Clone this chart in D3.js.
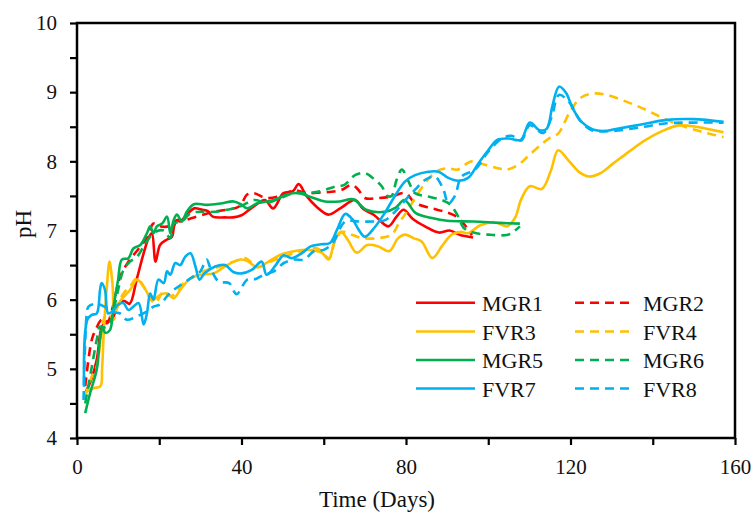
<!DOCTYPE html>
<html>
<head>
<meta charset="utf-8">
<script src="https://cdn.jsdelivr.net/npm/d3@7"></script>
<style>
  html, body { margin: 0; padding: 0; background: #fff; }
  svg { display: block; }
  text { font-family: "Liberation Serif", "Times New Roman", serif; fill: #111; }
</style>
</head>
<body>
<svg id="chart" width="755" height="512"></svg>
<script>
// ---------- data: [day, pH] ----------
const seriesNames = ["MGR1", "MGR2", "FVR3", "FVR4", "MGR5", "MGR6", "FVR7", "FVR8"];
const xTickValues = [0, 40, 80, 120, 160];
const yTickValues = [4, 5, 6, 7, 8, 9, 10];

const mgr1 = [[2,4.65],[3.5,4.85],[4.8,5.13],[6,5.6],[7,5.68],[8.5,5.72],[10,5.92],[11.5,5.98],[12.8,5.94],[14.5,6.29],[16.2,6.67],[17.4,6.89],[18.2,6.96],[19.1,6.55],[20.2,6.79],[21.9,6.87],[23.1,6.91],[23.6,7.06],[24.3,7.15],[25.1,7.13],[27,7.25],[28.5,7.32],[30.5,7.3],[31.8,7.28],[33,7.2],[36,7.19],[38,7.19],[40,7.22],[43,7.35],[45.7,7.44],[47.7,7.32],[50.2,7.54],[52.5,7.57],[53.9,7.67],[55.8,7.5],[58.3,7.34],[61.1,7.23],[64,7.32],[67.6,7.44],[69.6,7.31],[72.3,7.22],[75.7,7.06],[77.7,7.2],[79.4,7.3],[81.6,7.17],[84.6,7.06],[88,6.97],[90.6,7.0],[93,6.94],[96.3,6.9]];
const mgr2 = [[2,4.75],[3.6,5.42],[4.8,5.6],[6,5.71],[7.3,5.66],[8.5,5.85],[10.5,6.33],[12.5,6.55],[14.5,6.7],[17,6.89],[18.6,7.1],[20.2,7.06],[22.3,7.06],[24.3,7.15],[26,7.15],[28,7.18],[30.8,7.23],[33.2,7.27],[36.5,7.3],[39.5,7.35],[41.4,7.52],[43,7.54],[46,7.47],[49.5,7.5],[52.8,7.58],[56,7.54],[59.4,7.55],[61.9,7.56],[64.4,7.59],[66.8,7.66],[68.4,7.59],[70,7.47],[73.2,7.47],[76.5,7.49],[79.8,7.54],[82.2,7.4],[86.3,7.32],[89.5,7.27],[92.3,7.2],[94.3,7.08],[96,6.93]];
const fvr3 = [[2,4.66],[4,4.72],[5.7,4.75],[6.1,5.0],[6.5,5.52],[7.3,6.22],[7.9,6.55],[8.6,6.25],[9.2,5.82],[10.5,5.98],[12.9,6.14],[14.6,6.29],[16.2,6.19],[17.4,6.07],[18.6,6.0],[20.2,6.07],[21.9,6.09],[23.5,6.02],[25.1,6.14],[27.6,6.31],[30,6.36],[33.3,6.38],[36.5,6.5],[39.8,6.58],[41.4,6.56],[43.8,6.47],[46.3,6.54],[49.5,6.65],[52.8,6.7],[56.5,6.72],[59.5,6.68],[61.2,6.58],[62.7,6.86],[64.2,6.98],[65.9,6.86],[68,6.68],[70.6,6.79],[73.3,6.77],[75.9,6.7],[78.1,6.89],[79.8,6.94],[81.8,6.89],[83.8,6.84],[86.4,6.6],[88.7,6.77],[91.1,6.94],[93.5,6.98],[95,6.96],[98.2,7.08],[101.6,7.12],[104.5,7.06],[106.5,7.18],[108,7.45],[110.1,7.64],[113,7.6],[115.2,7.86],[117,8.16],[119.7,8.0],[122.2,7.84],[124.5,7.78],[127,7.82],[130.4,7.97],[134,8.13],[138,8.3],[142.4,8.44],[146.4,8.52],[150.5,8.5],[154,8.46],[157.2,8.42]];
const fvr4 = [[2,4.6],[3.6,4.89],[4.8,5.03],[6,5.56],[6.8,5.76],[7.6,5.8],[8.9,5.71],[9.7,5.9],[11.3,6.09],[12.9,6.19],[14.6,6.31],[16.2,6.19],[17.4,6.05],[19,5.95],[21.1,6.12],[22.7,6.05],[24,6.09],[25.9,6.24],[28.4,6.33],[31.6,6.43],[34.9,6.48],[38.1,6.55],[41,6.6],[43.8,6.47],[47.1,6.55],[50.3,6.62],[54.4,6.7],[58.5,6.74],[61.3,6.6],[62.7,6.84],[64.4,6.98],[66.8,6.94],[69.2,6.89],[73.3,6.89],[76.5,6.94],[78.5,7.13],[80.2,7.27],[82.2,7.47],[84.6,7.68],[86.3,7.8],[88.3,7.88],[90.3,7.9],[92.5,7.88],[94.3,7.95],[96,8.0],[99.2,7.95],[102.4,7.9],[104.5,7.88],[107.3,7.95],[109.6,8.07],[113.2,8.26],[115.5,8.36],[117,8.4],[119.9,8.72],[122.5,8.92],[125.5,8.98],[128.8,8.96],[133.7,8.86],[138.5,8.74],[143.4,8.6],[148.3,8.49],[153.1,8.41],[157.2,8.35]];
const mgr5 = [[2,4.36],[3.2,4.65],[4.8,4.99],[5.6,5.42],[6.2,5.6],[6.9,5.52],[8,5.56],[8.9,5.9],[10,6.29],[10.9,6.58],[12.5,6.6],[13.7,6.74],[15.4,6.79],[17,6.96],[17.8,7.06],[18.6,6.96],[19.4,7.06],[20.7,7.1],[21.9,7.2],[22.7,6.96],[23.5,7.15],[24.3,7.23],[25.5,7.13],[26.7,7.27],[28.4,7.38],[31.6,7.37],[34.9,7.39],[38.1,7.42],[39.8,7.38],[41.4,7.32],[43.7,7.39],[47.9,7.44],[51.1,7.52],[53.8,7.54],[57.5,7.47],[60.3,7.42],[63.9,7.42],[67.2,7.45],[70.3,7.3],[74.9,7.27],[77.5,7.33],[79.6,7.44],[82.4,7.25],[86.3,7.18],[90,7.14],[96.4,7.13],[102.9,7.11],[107.7,7.1]];
const mgr6 = [[2,4.5],[3.6,5.03],[4.8,5.42],[5.6,5.61],[6.8,5.6],[8,5.66],[8.9,5.85],[10,6.14],[11.3,6.43],[12.9,6.55],[14.6,6.62],[16.2,6.77],[17.8,6.91],[19.4,6.99],[21.1,7.0],[22.7,6.89],[23.5,7.1],[25.5,7.13],[27.6,7.25],[30,7.27],[33.3,7.27],[36.5,7.3],[39.8,7.35],[43,7.44],[46.3,7.4],[49.5,7.47],[52.8,7.54],[56,7.54],[59.3,7.57],[62.5,7.63],[65,7.66],[67.6,7.8],[70,7.83],[72.5,7.73],[74.1,7.64],[75.5,7.5],[76.5,7.5],[77.7,7.73],[79,7.88],[80.6,7.71],[82.2,7.54],[85.4,7.49],[88.7,7.44],[90.7,7.38],[92.7,7.2],[94,7.04],[96.4,6.97],[100,6.94],[104.8,6.94],[106.5,7.0],[107.7,7.06]];
const fvr7 = [[1.7,4.74],[2.5,5.71],[3.6,5.78],[4.8,5.8],[5.6,6.14],[6,6.24],[6.8,6.14],[7.6,5.8],[8.9,5.85],[10,5.93],[11.3,5.95],[12.5,5.85],[13.7,5.9],[15,5.95],[16.2,5.64],[17,5.8],[17.8,6.09],[18.6,6.0],[19.8,6.29],[21.1,6.24],[21.9,6.41],[22.7,6.36],[23.9,6.53],[25.1,6.5],[26.3,6.62],[27.6,6.67],[28.8,6.48],[29.8,6.29],[31,6.38],[33.6,6.48],[36,6.5],[38,6.4],[40,6.38],[42.5,6.43],[44.9,6.55],[46.1,6.36],[48.1,6.48],[50.2,6.64],[52.2,6.6],[54.6,6.67],[56.8,6.77],[59.3,6.8],[61.5,6.82],[63.3,7.02],[65.2,7.24],[67,7.16],[68.4,7.02],[70,6.91],[72.3,7.04],[74.9,7.26],[77.3,7.5],[79.8,7.71],[82.2,7.8],[85.4,7.85],[87.9,7.85],[90.3,7.76],[92.7,7.72],[95.1,7.76],[97.6,7.97],[100,8.16],[102.2,8.31],[105,8.33],[107.9,8.31],[110.1,8.56],[112.5,8.45],[114.2,8.47],[115.6,8.8],[117.2,9.08],[118.9,8.99],[120.5,8.77],[122.7,8.57],[125.4,8.46],[128.4,8.44],[130.4,8.46],[136.9,8.53],[143.4,8.6],[149.9,8.61],[157.2,8.57]];
const fvr8 = [[1.6,4.55],[2.4,5.81],[2.8,5.9],[4.9,5.94],[7.3,5.88],[9,5.82],[10.5,5.8],[12.1,5.71],[14.6,5.76],[17,5.83],[18.6,5.9],[20.2,5.93],[21.9,6.05],[23.5,6.14],[25.9,6.24],[28.4,6.34],[30,6.41],[31.5,6.58],[32.5,6.45],[34.5,6.26],[37,6.24],[38.8,6.08],[41.4,6.29],[43.5,6.3],[45.4,6.36],[47.9,6.41],[50.3,6.53],[52.8,6.58],[55.2,6.58],[57.6,6.7],[60,6.72],[62.2,6.82],[65.2,7.13],[68.4,7.13],[71.7,7.13],[74.9,7.15],[78.1,7.32],[80.6,7.49],[82.2,7.59],[84.6,7.73],[87,7.78],[89.1,7.59],[90.3,7.39],[91.9,7.5],[93.5,7.78],[96.8,7.88],[100,8.14],[103.3,8.33],[105.7,8.37],[108,8.3],[110.1,8.52],[113.4,8.41],[115.4,8.64],[117.2,8.96],[119.9,8.84],[122.2,8.6],[125.2,8.45],[130.4,8.44],[136.9,8.49],[143.4,8.55],[149.9,8.56],[157.2,8.56]];

const seriesData = [mgr1, mgr2, fvr3, fvr4, mgr5, mgr6, fvr7, fvr8];
const seriesColors = ["#FF0000", "#FF0000", "#FFC000", "#FFC000", "#00B050", "#00B050", "#00B0F0", "#00B0F0"];
const seriesDashed = [false, true, false, true, false, true, false, true];

// ---------- layout ----------
const FONT = "'Liberation Serif', 'Times New Roman', serif";
const svg = d3.select("#chart");
const L = 77, R = 735, T = 23, B = 438;
const x = d3.scaleLinear().domain([0, 160]).range([L, R]);
const y = d3.scaleLinear().domain([4, 10]).range([B, T]);

// axes
const xAxis = d3.axisBottom(x)
  .tickValues(d3.range(0, 161, 20))
  .tickSize(7).tickPadding(14)
  .tickFormat(d => xTickValues.includes(d) ? d : "");
const gx = svg.append("g").attr("transform", `translate(0,${B})`).call(xAxis);
const yAxis = d3.axisLeft(y)
  .tickValues(d3.range(4, 10.01, 0.5))
  .tickSize(7).tickPadding(13)
  .tickFormat(d => yTickValues.includes(d) ? d : "");
const gy = svg.append("g").attr("transform", `translate(${L},0)`).call(yAxis);
[gx, gy].forEach(g => {
  g.attr("font-family", FONT).attr("font-size", 21);
  g.select(".domain").remove();
  g.selectAll(".tick line").attr("stroke", "#000").attr("stroke-width", 2.2);
  g.selectAll(".tick text").attr("font-family", FONT).style("font-family", FONT).style("font-size", "21px").attr("fill", "#111");
});

// lines
const line = d3.line()
  .x(d => x(d[0])).y(d => y(d[1]))
  .curve(d3.curveCatmullRom.alpha(0.5));

seriesData.forEach((data, i) => {
  svg.append("path")
    .datum(data)
    .attr("d", line)
    .attr("fill", "none")
    .attr("stroke", seriesColors[i])
    .attr("stroke-width", 2.6)
    .attr("stroke-linejoin", "round")
    .attr("stroke-dasharray", seriesDashed[i] ? "9,6" : null);
});

// frame
svg.append("rect")
  .attr("x", L).attr("y", T).attr("width", R - L).attr("height", B - T)
  .attr("fill", "none").attr("stroke", "#000").attr("stroke-width", 2.5);

// legend
const legRows = [302.7, 331.5, 360, 388.5];
const legCols = [{x1: 416, x2: 475, tx: 482}, {x1: 575, x2: 632, tx: 643}];
seriesNames.forEach((name, i) => {
  const col = legCols[i % 2];
  const ry = legRows[Math.floor(i / 2)];
  svg.append("line")
    .attr("x1", col.x1).attr("x2", col.x2).attr("y1", ry).attr("y2", ry)
    .attr("stroke", seriesColors[i]).attr("stroke-width", 2.6)
    .attr("stroke-dasharray", seriesDashed[i] ? "9,6" : null);
  svg.append("text")
    .attr("x", col.tx).attr("y", ry + 8)
    .attr("font-family", FONT)
    .style("font-size", "22px")
    .text(name);
});

// axis titles
svg.append("text")
  .attr("x", 377).attr("y", 507)
  .attr("text-anchor", "middle")
  .attr("font-family", FONT)
  .style("font-size", "23px")
  .text("Time (Days)");
svg.append("text")
  .attr("transform", "translate(31,224) rotate(-90)")
  .attr("text-anchor", "middle")
  .attr("font-family", FONT)
  .style("font-size", "23px")
  .text("pH");
</script>
</body>
</html>
